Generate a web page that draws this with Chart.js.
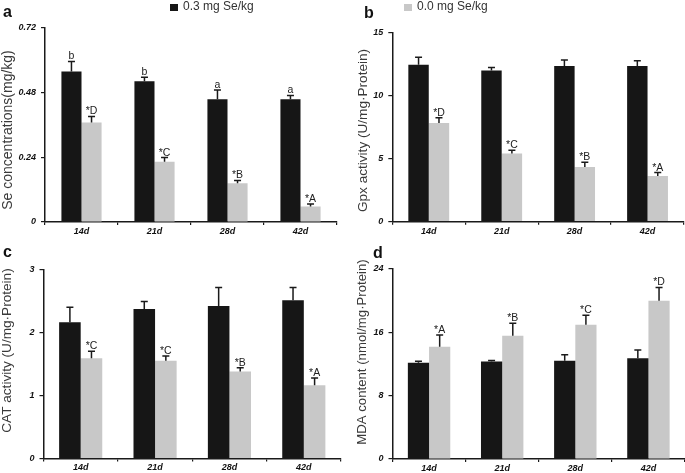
<!DOCTYPE html>
<html>
<head>
<meta charset="utf-8">
<script src="https://cdn.jsdelivr.net/npm/chart.js@4.4.0/dist/chart.umd.min.js"></script>
<style>
  body { margin: 0; background: #fff; font-family: Arial, "Liberation Sans", sans-serif; }
  #page { position: relative; width: 685px; height: 473px; overflow: hidden; }
  canvas { position: absolute; left: 0; top: 0; }
  .panel { position: absolute; font-weight: bold; font-size: 16px; line-height: 16px; color: #111; }
  .leg { position: absolute; top: 0px; font-size: 12px; line-height: 13px; color: #333; white-space: nowrap; }
  .sw { position: absolute; top: 4px; width: 8px; height: 7px; }
</style>
</head>
<body>
<div id="page">
  <canvas id="chartA" width="685" height="473"></canvas>
  <canvas id="chartB" width="685" height="473"></canvas>
  <canvas id="chartC" width="685" height="473"></canvas>
  <canvas id="chartD" width="685" height="473"></canvas>

  <div class="sw" style="left:170px;background:#161616"></div>
  <div class="leg" style="left:183px">0.3 mg Se/kg</div>
  <div class="sw" style="left:404px;background:#c8c8c8"></div>
  <div class="leg" style="left:417px">0.0 mg Se/kg</div>

  <div class="panel" style="left:3px;top:4px">a</div>
  <div class="panel" style="left:364px;top:5px">b</div>
  <div class="panel" style="left:3px;top:244px">c</div>
  <div class="panel" style="left:373px;top:245px">d</div>
</div>

<script>
// sampling days
const days = ['14d', '21d', '28d', '42d'];

// a - Se concentrations (mg/kg)
const seTicks = [0, 0.24, 0.48, 0.72];
const seHigh = [0.558, 0.522, 0.455, 0.455];
const seHighErr = [0.037, 0.014, 0.034, 0.014];
const seLow = [0.369, 0.223, 0.144, 0.057];
const seLowErr = [0.022, 0.016, 0.010, 0.010];
const seHighMarks = ['b', 'b', 'a', 'a'];
const seLowMarks = ['*D', '*C', '*B', '*A'];

// b - Gpx activity
const gpxTicks = [0, 5, 10, 15];
const gpxHigh = [12.44, 11.98, 12.33, 12.33];
const gpxHighErr = [0.60, 0.24, 0.48, 0.42];
const gpxLow = [7.83, 5.40, 4.34, 3.63];
const gpxLowErr = [0.40, 0.27, 0.37, 0.26];
const gpxLowMarks = ['*D', '*C', '*B', '*A'];

// c - CAT activity
const catTicks = [0, 1, 2, 3];
const catHigh = [2.16, 2.37, 2.42, 2.51];
const catHighErr = [0.24, 0.12, 0.29, 0.20];
const catLow = [1.59, 1.55, 1.38, 1.16];
const catLowErr = [0.11, 0.075, 0.06, 0.115];
const catLowMarks = ['*C', '*C', '*B', '*A'];

// d - MDA content
const mdaTicks = [0, 8, 16, 24];
const mdaHigh = [12.15, 12.32, 12.40, 12.74];
const mdaHighErr = [0.20, 0.12, 0.76, 1.02];
const mdaLow = [14.18, 15.58, 16.97, 19.98];
const mdaLowErr = [1.48, 1.57, 1.19, 1.69];
const mdaLowMarks = ['*A', '*B', '*C', '*D'];

const W = 685, H = 473;
const AXW = 40, AXH = 20;
const tickFont = { family: 'Arial', size: 9, style: 'italic', weight: 'bold' };

// error bars + significance letters above each bar
const errorBars = {
  id: 'errorBars',
  afterDatasetsDraw(chart) {
    const ctx = chart.ctx;
    const y = chart.scales.y;
    ctx.save();
    chart.data.datasets.forEach((ds, i) => {
      chart.getDatasetMeta(i).data.forEach((bar, j) => {
        const top = y.getPixelForValue(ds.data[j] + ds.errs[j]);
        ctx.strokeStyle = '#1a1a1a';
        ctx.lineWidth = 1.5;
        ctx.beginPath();
        ctx.moveTo(bar.x, bar.y);
        ctx.lineTo(bar.x, top);
        ctx.moveTo(bar.x - 3.5, top);
        ctx.lineTo(bar.x + 3.5, top);
        ctx.stroke();
        if (ds.marks && ds.marks[j]) {
          ctx.fillStyle = '#222';
          ctx.font = '10.5px Arial';
          ctx.textAlign = 'center';
          ctx.textBaseline = 'alphabetic';
          ctx.fillText(ds.marks[j], bar.x, top - 2);
        }
      });
    });
    ctx.restore();
  }
};

// rotated y-axis title
const yTitle = {
  id: 'yTitle',
  afterDraw(chart, args, opts) {
    const ctx = chart.ctx;
    ctx.save();
    ctx.translate(opts.x, opts.y);
    ctx.rotate(-Math.PI / 2);
    ctx.font = opts.size + 'px Arial';
    ctx.fillStyle = '#3a3a3a';
    ctx.textAlign = 'center';
    ctx.textBaseline = 'middle';
    ctx.fillText(opts.text, 0, 0);
    ctx.restore();
  }
};

function makeChart(id, cfg) {
  const [L, T, R, B] = cfg.area;
  return new Chart(document.getElementById(id), {
    type: 'bar',
    data: {
      labels: days,
      datasets: [
        { data: cfg.high, errs: cfg.highErr, marks: cfg.highMarks, backgroundColor: '#161616' },
        { data: cfg.low, errs: cfg.lowErr, marks: cfg.lowMarks, backgroundColor: '#c8c8c8' }
      ]
    },
    options: {
      responsive: false,
      animation: false,
      devicePixelRatio: 1,
      layout: { padding: { left: L - AXW, top: T, right: W - R, bottom: H - B - AXH } },
      datasets: { bar: { barPercentage: 1, categoryPercentage: cfg.cat, borderWidth: 0 } },
      plugins: {
        legend: { display: false },
        tooltip: { enabled: false },
        yTitle: cfg.title
      },
      scales: {
        x: {
          grid: { offset: true, drawOnChartArea: false, drawTicks: true, tickLength: 3, color: '#1a1a1a', lineWidth: 1.2 },
          border: { color: '#1a1a1a', width: 1.5 },
          ticks: { font: tickFont, color: '#111', padding: 1, maxRotation: 0 },
          afterFit: s => { s.height = AXH; }
        },
        y: {
          min: cfg.ticks[0],
          max: cfg.ticks[cfg.ticks.length - 1],
          afterBuildTicks: s => { s.ticks = cfg.ticks.map(v => ({ value: v })); },
          grid: { drawOnChartArea: false, drawTicks: true, tickLength: 4, color: '#1a1a1a', lineWidth: 1.2 },
          border: { color: '#1a1a1a', width: 1.5 },
          ticks: { font: tickFont, color: '#111', padding: 5, callback: v => String(v) },
          afterFit: s => { s.width = AXW; }
        }
      }
    },
    plugins: [errorBars, yTitle]
  });
}

makeChart('chartA', {
  area: [45, 27.7, 337, 222], cat: 0.55, ticks: seTicks,
  high: seHigh, highErr: seHighErr, highMarks: seHighMarks,
  low: seLow, lowErr: seLowErr, lowMarks: seLowMarks,
  title: { text: 'Se concentrations(mg/kg)', x: 8.5, y: 130, size: 14 }
});

makeChart('chartB', {
  area: [392.3, 32.4, 684, 221.7], cat: 0.56, ticks: gpxTicks,
  high: gpxHigh, highErr: gpxHighErr, highMarks: null,
  low: gpxLow, lowErr: gpxLowErr, lowMarks: gpxLowMarks,
  title: { text: 'Gpx activity (U/mg\u00b7Protein)', x: 363, y: 130.5, size: 13.6 }
});

makeChart('chartC', {
  area: [43.5, 269.3, 341, 458.5], cat: 0.58, ticks: catTicks,
  high: catHigh, highErr: catHighErr, highMarks: null,
  low: catLow, lowErr: catLowErr, lowMarks: catLowMarks,
  title: { text: 'CAT activity (U/mg\u00b7Protein)', x: 7.5, y: 350.5, size: 13.6 }
});

makeChart('chartD', {
  area: [392.5, 269, 685, 459], cat: 0.58, ticks: mdaTicks,
  high: mdaHigh, highErr: mdaHighErr, highMarks: null,
  low: mdaLow, lowErr: mdaLowErr, lowMarks: mdaLowMarks,
  title: { text: 'MDA content (nmol/mg\u00b7Protein)', x: 362, y: 352, size: 13.2 }
});
</script>
</body>
</html>
